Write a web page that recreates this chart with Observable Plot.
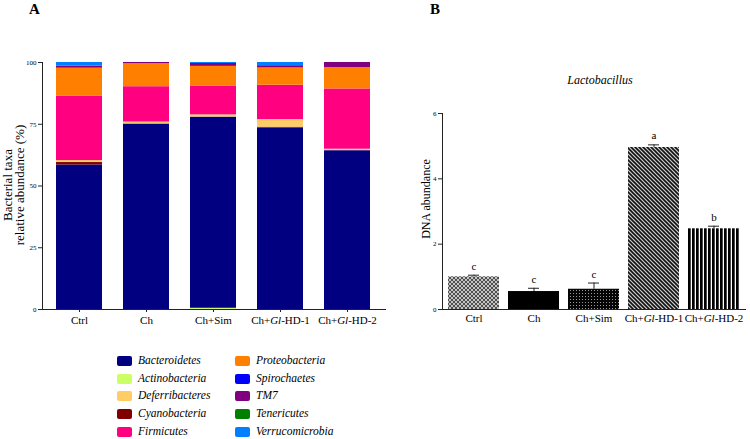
<!DOCTYPE html>
<html>
<head>
<meta charset="utf-8">
<script src="https://cdn.jsdelivr.net/npm/d3@7"></script>
<script src="https://cdn.jsdelivr.net/npm/@observablehq/plot@0.6"></script>
<style>
  html, body { margin: 0; padding: 0; background: #fff; }
  #root { position: relative; width: 750px; height: 439px; overflow: hidden; font-family: "Liberation Serif", serif; color: #000; }
  .abs { position: absolute; }
  .panel { position: absolute; font-weight: bold; font-size: 15px; line-height: 1; }
  .ylab { position: absolute; white-space: nowrap; transform: translate(-50%, -50%) rotate(-90deg); font-size: 13px; line-height: 1; }
  .leg { position: absolute; font-size: 11.5px; font-style: italic; line-height: 1; white-space: nowrap; font-family: "Liberation Serif", serif; }
  .sw { position: absolute; width: 15px; height: 10px; border-radius: 2px; }
</style>
</head>
<body>
<div id="root"></div>
<script>
// ---------- Data ----------
const groups = ["Ctrl", "Ch", "Ch+Sim", "Ch+Gl-HD-1", "Ch+Gl-HD-2"];
// stacking order (bottom to top)
const taxa = ["Actinobacteria","Bacteroidetes","Cyanobacteria","Deferribacteres","Firmicutes","Proteobacteria","Spirochaetes","TM7","Tenericutes","Verrucomicrobia"];
const Actinobacteria  = [0.0, 0.0, 0.5, 0.0, 0.0];
const Bacteroidetes   = [58.5, 75.1, 77.4, 73.5, 64.3];
const Cyanobacteria   = [1.0, 0.0, 0.0, 0.3, 0.0];
const Deferribacteres = [0.8, 0.8, 0.9, 3.1, 0.6];
const Firmicutes      = [26.0, 14.3, 11.7, 13.9, 24.4];
const Proteobacteria  = [11.4, 9.3, 7.9, 7.0, 8.6];
const Spirochaetes    = [0.0, 0.0, 0.3, 0.0, 0.0];
const TM7             = [0.8, 0.5, 0.9, 0.9, 2.1];
const Tenericutes     = [0.0, 0.0, 0.0, 0.0, 0.0];
const Verrucomicrobia = [1.5, 0.0, 0.4, 1.3, 0.0];
const taxaValues = {Actinobacteria, Bacteroidetes, Cyanobacteria, Deferribacteres, Firmicutes, Proteobacteria, Spirochaetes, TM7, Tenericutes, Verrucomicrobia};
const taxaColors = ["#ccff66","#000080","#800000","#ffcc66","#ff0080","#ff8000","#0000ff","#800080","#008000","#0080ff"];
const legendCol1 = ["Bacteroidetes","Actinobacteria","Deferribacteres","Cyanobacteria","Firmicutes"];
const legendCol2 = ["Proteobacteria","Spirochaetes","TM7","Tenericutes","Verrucomicrobia"];
const yTicksA = [0, 25, 50, 75, 100];

// Panel B: Lactobacillus DNA abundance
const lactoMean = [1.00, 0.55, 0.62, 4.96, 2.47];
const lactoErr  = [0.05, 0.10, 0.19, 0.08, 0.08];
const lactoSig  = ["c", "c", "c", "a", "b"];
const yTicksB = [0, 2, 4, 6];

// ---------- Helpers ----------
const root = document.getElementById("root");
const serif = "'Liberation Serif', serif";
function italicizeGl(svg) {
  d3.select(svg).selectAll("text").each(function () {
    const t = this.textContent;
    if (t.includes("Gl-")) {
      const [pre, post] = t.split("Gl");
      const s = d3.select(this);
      s.text(null);
      s.append("tspan").text(pre);
      s.append("tspan").attr("font-style", "italic").text("Gl");
      s.append("tspan").text(post);
    }
  });
}

// ---------- Panel A ----------
const stackData = [];
groups.forEach((g, gi) => {
  taxa.forEach((t) => {
    stackData.push({group: g, taxon: t, value: taxaValues[t][gi]});
  });
});

const plotA = Plot.plot({
  width: 400, height: 340,
  marginLeft: 42, marginRight: 15, marginTop: 62, marginBottom: 31,
  style: {fontFamily: serif, background: "transparent", color: "#222"},
  x: {domain: groups, paddingInner: 0.31, paddingOuter: 0.18, label: null, tickSize: 3, tickPadding: 4, line: true},
  y: {domain: [0, 100], ticks: yTicksA, tickFormat: d3.format("d"), label: null, tickSize: 4, tickPadding: 2, line: true},
  color: {domain: taxa, range: taxaColors},
  marks: [
    Plot.barY(stackData, {x: "group", y: "value", fill: "taxon", order: taxa}),
  ]
});
plotA.style.position = "absolute";
plotA.style.left = "0px";
plotA.style.top = "0px";
root.appendChild(plotA);
d3.select(plotA).selectAll("g[aria-label='x-axis tick label'] text").attr("font-size", 11).attr("fill", "#000");
d3.select(plotA).selectAll("g[aria-label='y-axis tick label'] text").attr("font-size", 7).attr("fill", "#000");
italicizeGl(plotA);

// ---------- Panel B ----------
const barData = groups.map((g, i) => ({group: g, mean: lactoMean[i], err: lactoErr[i], sig: lactoSig[i], pat: "url(#pat" + i + ")"}));

const plotB = Plot.plot({
  width: 370, height: 240,
  marginLeft: 62, marginRight: 5, marginTop: 13, marginBottom: 31,
  style: {fontFamily: serif, background: "transparent", color: "#222"},
  x: {domain: groups, paddingInner: 0.156, paddingOuter: 0.077, label: null, tickSize: 0, tickPadding: 5, line: true},
  y: {domain: [0, 6], ticks: yTicksB, tickFormat: d3.format("d"), label: null, tickSize: 4, tickPadding: 2, line: true},
  color: {type: "identity"},
  marks: [
    Plot.barY(barData, {x: "group", y: "mean", fill: "pat"}),
    Plot.ruleX(barData, {x: "group", y1: "mean", y2: d => d.mean + d.err, stroke: "#222", strokeWidth: 1}),
    Plot.tickY(barData, {x: "group", y: d => d.mean + d.err, insetLeft: 20, insetRight: 20, stroke: "#222", strokeWidth: 1}),
    Plot.text(barData, {x: "group", y: d => d.mean + d.err, text: "sig", dy: -9, fontSize: 11, fill: "#000"})
  ]
});
plotB.style.position = "absolute";
plotB.style.left = "380px";
plotB.style.top = "100px";
root.appendChild(plotB);
d3.select(plotB).selectAll("g[aria-label='x-axis tick label'] text").attr("font-size", 11).attr("fill", "#000");
d3.select(plotB).selectAll("g[aria-label='y-axis tick label'] text").attr("font-size", 7).attr("fill", "#000");
italicizeGl(plotB);

// SVG patterns for panel B bars
const defs = d3.select(plotB).insert("defs", ":first-child");
// 0: Ctrl - gray crosshatch
let p = defs.append("pattern").attr("id", "pat0").attr("patternUnits", "userSpaceOnUse").attr("width", 4).attr("height", 4);
p.append("rect").attr("width", 4).attr("height", 4).attr("fill", "#c4c4c4");
p.append("path").attr("d", "M0,0L4,4M4,0L0,4").attr("stroke", "#505050").attr("stroke-width", 1);
// 1: Ch - solid black
p = defs.append("pattern").attr("id", "pat1").attr("patternUnits", "userSpaceOnUse").attr("width", 4).attr("height", 4);
p.append("rect").attr("width", 4).attr("height", 4).attr("fill", "#000");
// 2: Ch+Sim - black with fine dots
p = defs.append("pattern").attr("id", "pat2").attr("patternUnits", "userSpaceOnUse").attr("width", 3).attr("height", 3);
p.append("rect").attr("width", 3).attr("height", 3).attr("fill", "#050505");
p.append("rect").attr("x", 1).attr("y", 1).attr("width", 1).attr("height", 1).attr("fill", "#9a9a9a");
// 3: HD-1 - diagonal stripes
p = defs.append("pattern").attr("id", "pat3").attr("patternUnits", "userSpaceOnUse").attr("width", 4).attr("height", 4);
p.append("rect").attr("width", 4).attr("height", 4).attr("fill", "#cfcfcf");
p.append("path").attr("d", "M-1,-1L5,5M-1,3L1,5M3,-1L5,1").attr("stroke", "#111").attr("stroke-width", 1.6);
// 4: HD-2 - vertical stripes
p = defs.append("pattern").attr("id", "pat4").attr("patternUnits", "userSpaceOnUse").attr("width", 4).attr("height", 4);
p.append("rect").attr("width", 4).attr("height", 4).attr("fill", "#fff");
p.append("rect").attr("width", 2.7).attr("height", 4).attr("fill", "#000");

// ---------- Text / labels ----------
function addDiv(cls, text, x, y, extra) {
  const d = document.createElement("div");
  d.className = cls;
  d.textContent = text;
  d.style.left = x + "px";
  d.style.top = y + "px";
  if (extra) Object.assign(d.style, extra);
  root.appendChild(d);
  return d;
}
addDiv("panel", "A", 29, 2);
addDiv("panel", "B", 430, 2);
addDiv("ylab", "Bacterial taxa", 7, 185);
addDiv("ylab", "relative abundance (%)", 19, 185);
addDiv("ylab", "DNA abundance", 426, 199, {fontSize: "12px"});
addDiv("abs", "Lactobacillus", 600, 80, {fontSize: "12px", fontStyle: "italic", transform: "translate(-50%,-50%)", whiteSpace: "nowrap"});

// Legend
const colorOf = t => taxaColors[taxa.indexOf(t)];
[[legendCol1, 117], [legendCol2, 235]].forEach(([col, x]) => {
  col.forEach((t, i) => {
    const cy = 361 + i * 17.7;
    const sw = document.createElement("div");
    sw.className = "sw";
    sw.style.left = x + "px";
    sw.style.top = (cy - 5) + "px";
    sw.style.background = colorOf(t);
    root.appendChild(sw);
    addDiv("leg", t, x + 21, cy - 6);
  });
});
</script>
</body>
</html>
